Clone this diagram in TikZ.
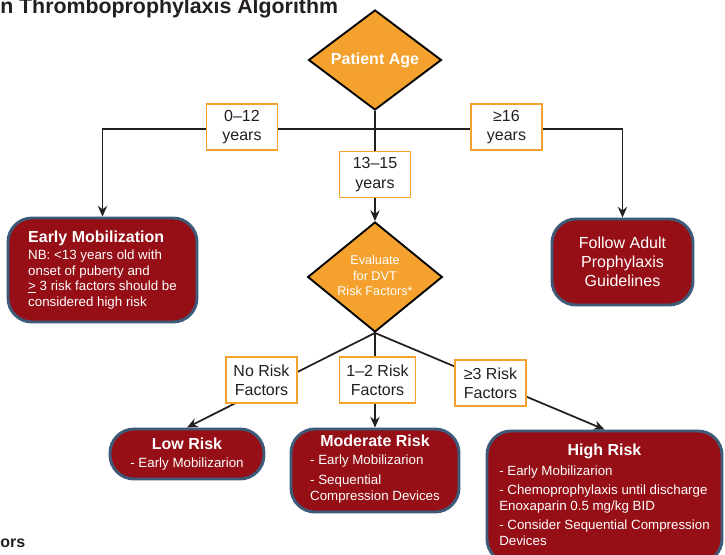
\documentclass[tikz,border=0pt]{standalone}
\usepackage{fontspec}
\setmainfont{Liberation Sans}
\usetikzlibrary{shapes.geometric, arrows.meta, backgrounds}

\definecolor{ageorange}{HTML}{F4A12E}
\definecolor{riskred}{HTML}{960E16}
\definecolor{rimblue}{HTML}{3D5B79}
\definecolor{inkgray}{HTML}{231F20}

\newcommand{\headfont}{\fontsize{12}{14}\selectfont\bfseries}
\newcommand{\risklist}[1]{\begin{tabular}{@{}l@{}}#1\end{tabular}}

\begin{document}
\begin{tikzpicture}
      [x=.75pt,y=-.75pt
      ,decide/.style={diamond,draw=black,line width=1.4pt,fill=ageorange,inner sep=0pt,text=white,align=center}
      ,agebox/.style={draw=ageorange,line width=1.1pt,fill=white,text=inkgray,align=center,inner xsep=5pt,minimum width=53pt,minimum height=34.5pt,font=\fontsize{12}{14.5}\selectfont}
      ,outcome/.style={draw=rimblue,line width=2.2pt,fill=riskred,text=white,rounded corners=18pt,inner sep=0pt,font=\fontsize{10}{12}\selectfont}
      ,link/.style={draw=inkgray,line width=1.3pt}
      ,arrowed/.style={link,-{Stealth[length=8pt,width=7pt]}}
      ]
        \useasboundingbox (0,0) rectangle (725,554);
        \clip (0,0) rectangle (725,554);

        \node[anchor=base west,inner sep=0pt,text=inkgray,font=\fontsize{16}{19}\selectfont\bfseries] (heading) at (0,13) {n Thromboprophylaxis Algorithm};
        \node[anchor=base west,inner sep=0pt,text=inkgray,font=\fontsize{12}{14}\selectfont\bfseries] (footnote) at (0,547) {ors};

        \node[decide,shape aspect=1.33,minimum width=99.75pt,minimum height=75pt,font=\headfont] (age) at (375,60) {Patient Age};
        \node[decide,shape aspect=1.23,minimum width=101pt,minimum height=82.5pt,font=\fontsize{9.5}{11.3}\selectfont] (eval) at (375,277) {\raisebox{3pt}{\begin{tabular}{@{}c@{}}Evaluate\\for DVT\\Risk Factors*\end{tabular}}};

        \node[outcome,minimum width=141.75pt,minimum height=78pt,align=left,font=\fontsize{10}{11.6}\selectfont] (early) at (102.5,270)
            {{\headfont Early Mobilization}\\[1.5pt]NB: <13 years old with\\onset of puberty and\\\underline{>} 3 risk factors should be\\considered high risk};
        \node[outcome,minimum width=105.75pt,minimum height=64.5pt,align=center,font=\fontsize{12}{14.25}\selectfont] (adult) at (622.5,262)
            {Follow Adult\\Prophylaxis\\Guidelines};
        \node[outcome,minimum width=115.5pt,minimum height=37.5pt,align=center] (low) at (187,454)
            {{\headfont Low Risk}\\[1pt]- Early Mobilizarion};
        \node[outcome,minimum width=126pt,minimum height=62.25pt,align=center] (mod) at (375,470.5)
            {{\headfont Moderate Risk}\\[4pt]\risklist{- Early Mobilizarion\\[3pt]- Sequential\\Compression Devices}};
        \node[outcome,minimum width=176.25pt,minimum height=99pt,align=center] (high) at (604.5,497)
            {{\headfont High Risk}\\[3pt]\risklist{- Early Mobilizarion\\[2pt]- Chemoprophylaxis until discharge\\Enoxaparin 0.5 mg/kg BID\\[2pt]- Consider Sequential Compression\\Devices}};

        \foreach \nm/\px/\py/\txt in {age012/242/127/{0–12\\years}, age16/506.5/127/{≥16\\years}, age13/375/174.5/{13–15\\years},
                                      norisk/261.5/380/{No Risk\\Factors}, onetwo/377.5/380/{1–2 Risk\\Factors}, threeup/490.5/383/{≥3 Risk\\Factors}}
        {
            \node[agebox] (\nm) at (\px,\py) {\txt};
        }

        \coordinate (split) at (375,129);
        \begin{scope}[on background layer]
            \draw[link] (age.south) -- (age13.north);
            \draw[arrowed] (split) -| (early.north);
            \draw[arrowed] (split) -| (adult.north);
            \draw[arrowed] (age13.south) -- (eval.north);
            \draw[arrowed] (eval.south) -- (low.north);
            \draw[arrowed] (eval.south) -- (mod.north);
            \draw[arrowed] (eval.south) -- (high.north);
        \end{scope}

       \end{tikzpicture}
\end{document}
